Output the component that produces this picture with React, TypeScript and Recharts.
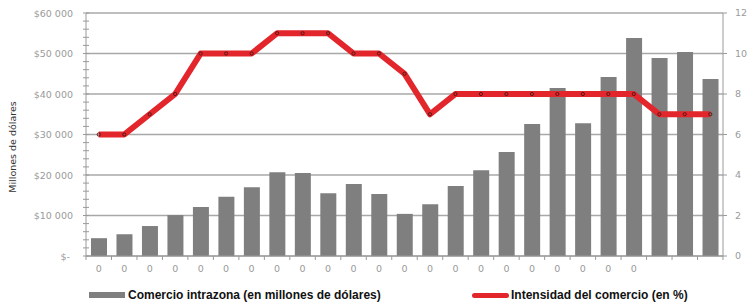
import * as React from 'react';
import {
  Bar,
  CartesianGrid,
  ComposedChart,
  Line,
  XAxis,
  YAxis,
} from 'recharts';

const WIDTH = 752;
const HEIGHT = 306;
const LEFT_W = 86;
const RIGHT_W = 29;
const PLOT_W = WIDTH - LEFT_W - RIGHT_W;
const BAND = PLOT_W / 25;

const TICK_FONT = '"DejaVu Sans", sans-serif';
const TICK_COLOR = '#9a9a9a';
const AXIS_COLOR = '#9a9a9a';

// categories (the source shows broken year labels as "0")
const categories = [
  '0', '0', '0', '0', '0', '0', '0', '0', '0', '0', '0', '0', '0',
  '0', '0', '0', '0', '0', '0', '0', '0', '0', '', '', '',
];

// Comercio intrazona (millones de dólares)
const comercio = [
  4400, 5400, 7400, 10100, 12100, 14600, 17000, 20700, 20500, 15500, 17800,
  15300, 10400, 12800, 17300, 21200, 25700, 32600, 41500, 32800, 44200, 53800,
  48900, 50400, 43700,
];

// Intensidad del comercio (%)
const intensidad = [
  6, 6, 7, 8, 10, 10, 10, 11, 11, 11, 10, 10, 9, 7, 8, 8, 8, 8, 8, 8, 8, 8, 7,
  7, 7,
];

const leftTicks = [
  0, 2000, 4000, 6000, 8000, 10000, 12000, 14000, 16000, 18000, 20000, 22000,
  24000, 26000, 28000, 30000, 32000, 34000, 36000, 38000, 40000, 42000, 44000,
  46000, 48000, 50000, 52000, 54000, 56000, 58000, 60000,
];
const rightTicks = [0, 2, 4, 6, 8, 10, 12];

const data = categories.map((c, i) => ({
  idx: i,
  label: c,
  comercio: comercio[i],
  intensidad: intensidad[i],
}));

const fmtMoney = (v: number) =>
  v === 0 ? '$-' : '$' + (v / 1000).toFixed(0) + ' 000';

function LeftTick(props: any) {
  const { x, y, payload } = props;
  const major = payload.value % 10000 === 0;
  return (
    <g>
      <line x1={x - 3} x2={x + 3} y1={y} y2={y} stroke={AXIS_COLOR} />
      {major && (
        <text
          x={payload.value === 0 ? x - 16 : x - 13}
          y={y}
          dy={3.5}
          textAnchor='end'
          fontSize={9.5}
          fontFamily={TICK_FONT}
          fill={TICK_COLOR}
        >
          {fmtMoney(payload.value)}
        </text>
      )}
    </g>
  );
}

function BottomTick(props: any) {
  const { x, y, payload, index } = props;
  const label = categories[payload.value] ?? '';
  return (
    <g>
      <line
        x1={x - BAND / 2}
        x2={x - BAND / 2}
        y1={y}
        y2={y + 4}
        stroke={AXIS_COLOR}
      />
      {index === categories.length - 1 && (
        <line
          x1={x + BAND / 2}
          x2={x + BAND / 2}
          y1={y}
          y2={y + 4}
          stroke={AXIS_COLOR}
        />
      )}
      <text
        x={x}
        y={y + 16}
        textAnchor='middle'
        fontSize={9.5}
        fontFamily={TICK_FONT}
        fill={TICK_COLOR}
      >
        {label}
      </text>
    </g>
  );
}

function Marker(props: any) {
  const { cx, cy } = props;
  return (
    <circle cx={cx} cy={cy} r={1.6} fill='none' stroke='#5a1414' strokeWidth={1} />
  );
}

export default function App() {
  return (
    <div
      style={{
        position: 'absolute',
        left: 0,
        top: 0,
        width: WIDTH,
        height: HEIGHT,
        background: '#fff',
      }}
    >
      <ComposedChart
        width={WIDTH}
        height={HEIGHT}
        data={data}
        margin={{ top: 13, right: 0, bottom: 28, left: 0 }}
        barSize={16}
      >
        <CartesianGrid
          yAxisId='right'
          vertical={false}
          stroke='#a8a8a8'
          strokeWidth={1.3}
        />
        <XAxis
          dataKey='idx'
          type='category'
          height={22}
          tickSize={0}
          tickMargin={0}
          tickLine={false}
          interval={0}
          stroke={AXIS_COLOR}
          tick={<BottomTick />}
        />
        <YAxis
          yAxisId='left'
          orientation='left'
          width={LEFT_W}
          domain={[0, 60000]}
          ticks={leftTicks}
          interval={0}
          tickSize={0}
          tickMargin={0}
          tickLine={false}
          stroke={AXIS_COLOR}
          tick={<LeftTick />}
        />
        <YAxis
          yAxisId='right'
          orientation='right'
          width={RIGHT_W}
          domain={[0, 12]}
          ticks={rightTicks}
          interval={0}
          tickSize={4}
          tickMargin={8}
          stroke={AXIS_COLOR}
          tick={{ fontSize: 9.5, fontFamily: TICK_FONT, fill: TICK_COLOR }}
        />
        <Bar
          yAxisId='left'
          dataKey='comercio'
          fill='#7f7f7f'
          isAnimationActive={false}
        />
        <Line
          yAxisId='right'
          dataKey='intensidad'
          stroke='#e3262b'
          strokeWidth={6}
          strokeLinejoin='round'
          dot={<Marker />}
          activeDot={false}
          type='linear'
          isAnimationActive={false}
        />
      </ComposedChart>

      {/* y axis title */}
      <div
        style={{
          position: 'absolute',
          left: 12,
          top: 147,
          transform: 'translate(-50%, -50%) rotate(-90deg)',
          whiteSpace: 'nowrap',
          fontFamily: TICK_FONT,
          fontSize: 9.5,
          color: '#333',
        }}
      >
        Millones de dólares
      </div>

      {/* legend */}
      <div
        style={{
          position: 'absolute',
          left: 89,
          top: 288,
          display: 'flex',
          alignItems: 'center',
          fontFamily: '"Liberation Sans", Arial, sans-serif',
          fontWeight: 'bold',
          fontSize: 12,
          color: '#111',
          whiteSpace: 'nowrap',
        }}
      >
        <span
          style={{
            display: 'inline-block',
            width: 36,
            height: 6,
            background: '#7f7f7f',
            marginRight: 3,
          }}
        />
        Comercio intrazona (en millones de dólares)
      </div>
      <div
        style={{
          position: 'absolute',
          left: 472,
          top: 288,
          display: 'flex',
          alignItems: 'center',
          fontFamily: '"Liberation Sans", Arial, sans-serif',
          fontWeight: 'bold',
          fontSize: 12,
          color: '#111',
          whiteSpace: 'nowrap',
        }}
      >
        <span
          style={{
            display: 'inline-block',
            width: 37,
            height: 5,
            borderRadius: 3,
            background: '#e3262b',
            marginRight: 2,
          }}
        />
        Intensidad del comercio (en %)
      </div>
    </div>
  );
}
